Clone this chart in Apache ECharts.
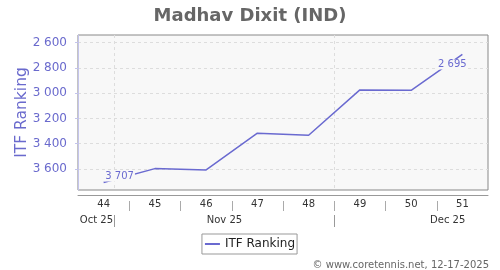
<!DOCTYPE html>
<html>
<head>
<meta charset="utf-8">
<script src="https://cdn.jsdelivr.net/npm/echarts@6/dist/echarts.min.js"></script>
<style>html,body{margin:0;padding:0;background:#fff;}#c{width:500px;height:270px;}</style>
</head>
<body>
<div id="c"></div>
<script>
// Data
var weeks = ['44', '45', '46', '47', '48', '49', '50', '51'];
var ranking = [3707, 3597, 3607, 3317, 3333, 2975, 2978, 2695];
var yTicks = [2600, 2800, 3000, 3200, 3400, 3600];
var monthLabels = ['Oct 25', 'Nov 25', 'Dec 25'];
// month boundaries / label centres in week units (week 44 centre = 0.5)
var monthBounds = [0.714, 5.0];
var monthCentres = [0.36, 2.857, 7.214];

function fmt(v) { return String(v).replace(/\B(?=(\d{3})+(?!\d))/g, ' '); }

// boundaries between week categories (inner only)
var weekBounds = [];
for (var k = 1; k < weeks.length; k++) weekBounds.push(k);

var lineColor = '#6a6ad0';
var seriesData = ranking.map(function (v, i) {
  var item = { value: v };
  if (i === 0) {
    item.label = { show: true, position: 'top', offset: [16, 4] };
  } else if (i === ranking.length - 1) {
    item.label = { show: true, position: 'bottom', offset: [-10, 0] };
  }
  return item;
});

var chart = echarts.init(document.getElementById('c'), null, { renderer: 'canvas' });
chart.setOption({
  animation: false,
  title: [{
    text: 'Madhav Dixit (IND)',
    left: 'center', top: 2,
    textStyle: { fontFamily: 'DejaVu Sans', fontSize: 18, fontWeight: 'bold', color: '#666' }
  }, {
    text: '\u00a9 www.coretennis.net, 12-17-2025',
    right: 11, bottom: 0, padding: 0,
    textStyle: { fontFamily: 'DejaVu Sans', fontSize: 10, fontWeight: 'normal', color: '#666' }
  }],
  legend: {
    data: [{ name: 'ITF Ranking', icon: 'rect' }],
    left: 'center', top: 234,
    padding: [4, 2, 4, 3],
    itemWidth: 15, itemHeight: 2,
    borderColor: '#999', borderWidth: 1, backgroundColor: '#fff',
    textStyle: { fontFamily: 'DejaVu Sans', fontSize: 12, color: '#222' }
  },
  grid: {
    left: 78, right: 12, top: 35, bottom: 80,
    show: true, backgroundColor: '#f8f8f8', borderColor: '#888', borderWidth: 1
  },
  xAxis: [{
    type: 'category', data: weeks, boundaryGap: true,
    position: 'bottom', offset: 11,
    axisLine: { show: false },
    axisTick: { show: false },
    axisLabel: { margin: -2, fontFamily: 'DejaVu Sans', fontSize: 10, color: '#333' },
    splitLine: { show: false }
  }, {
    type: 'value', min: 0, max: 8,
    position: 'bottom', offset: 25,
    axisLine: { show: false },
    axisTick: { show: true, length: 12, customValues: monthBounds, lineStyle: { color: '#999' } },
    axisLabel: {
      show: true, margin: 0, customValues: monthCentres,
      fontFamily: 'DejaVu Sans', fontSize: 10, color: '#333',
      formatter: function (v) {
        var best = 0, d = Infinity;
        monthCentres.forEach(function (c, i) { if (Math.abs(c - v) < d) { d = Math.abs(c - v); best = i; } });
        return monthLabels[best];
      }
    },
    splitLine: { show: true, lineStyle: { color: '#ddd', type: [3, 3] } }
  }, {
    type: 'value', min: 0, max: 8,
    position: 'bottom', offset: 5,
    axisLine: { show: true, lineStyle: { color: '#999' } },
    axisTick: { show: false }, axisLabel: { show: false }, splitLine: { show: false }
  }, {
    type: 'value', min: 0, max: weeks.length,
    position: 'bottom', offset: 11,
    axisLine: { show: false },
    axisTick: { show: true, length: 10, customValues: weekBounds, lineStyle: { color: '#aaa' } },
    axisLabel: { show: false }, splitLine: { show: false }
  }],
  yAxis: {
    type: 'value', inverse: true, min: 2541, max: 3766,
    position: 'left', offset: 5,
    name: 'ITF Ranking', nameLocation: 'middle', nameGap: 43, nameMoveOverlap: false,
    nameTextStyle: { fontFamily: 'DejaVu Sans', fontSize: 15.5, color: '#6a6acd' },
    axisLine: { show: true, lineStyle: { color: '#c4c4ec' } },
    axisTick: { show: true, length: 3, customValues: yTicks, lineStyle: { color: '#c4c4ec' } },
    axisLabel: {
      customValues: yTicks, margin: 6,
      fontFamily: 'DejaVu Sans', fontSize: 12, color: '#6a6acd',
      formatter: function (v) { return fmt(v); }
    },
    splitLine: { show: true, lineStyle: { color: '#ddd', type: [3, 3] } }
  },
  series: [{
    name: 'ITF Ranking', type: 'line',
    xAxisIndex: 0, yAxisIndex: 0,
    data: seriesData,
    symbol: 'circle', symbolSize: 0, showSymbol: true,
    lineStyle: { color: lineColor, width: 1.5 },
    itemStyle: { color: lineColor },
    label: {
      show: false,
      fontFamily: 'DejaVu Sans', fontSize: 10, color: lineColor,
      backgroundColor: '#f8f8f8', padding: [0, 1],
      formatter: function (p) { return fmt(p.value); }
    }
  }]
});
</script>
</body>
</html>
